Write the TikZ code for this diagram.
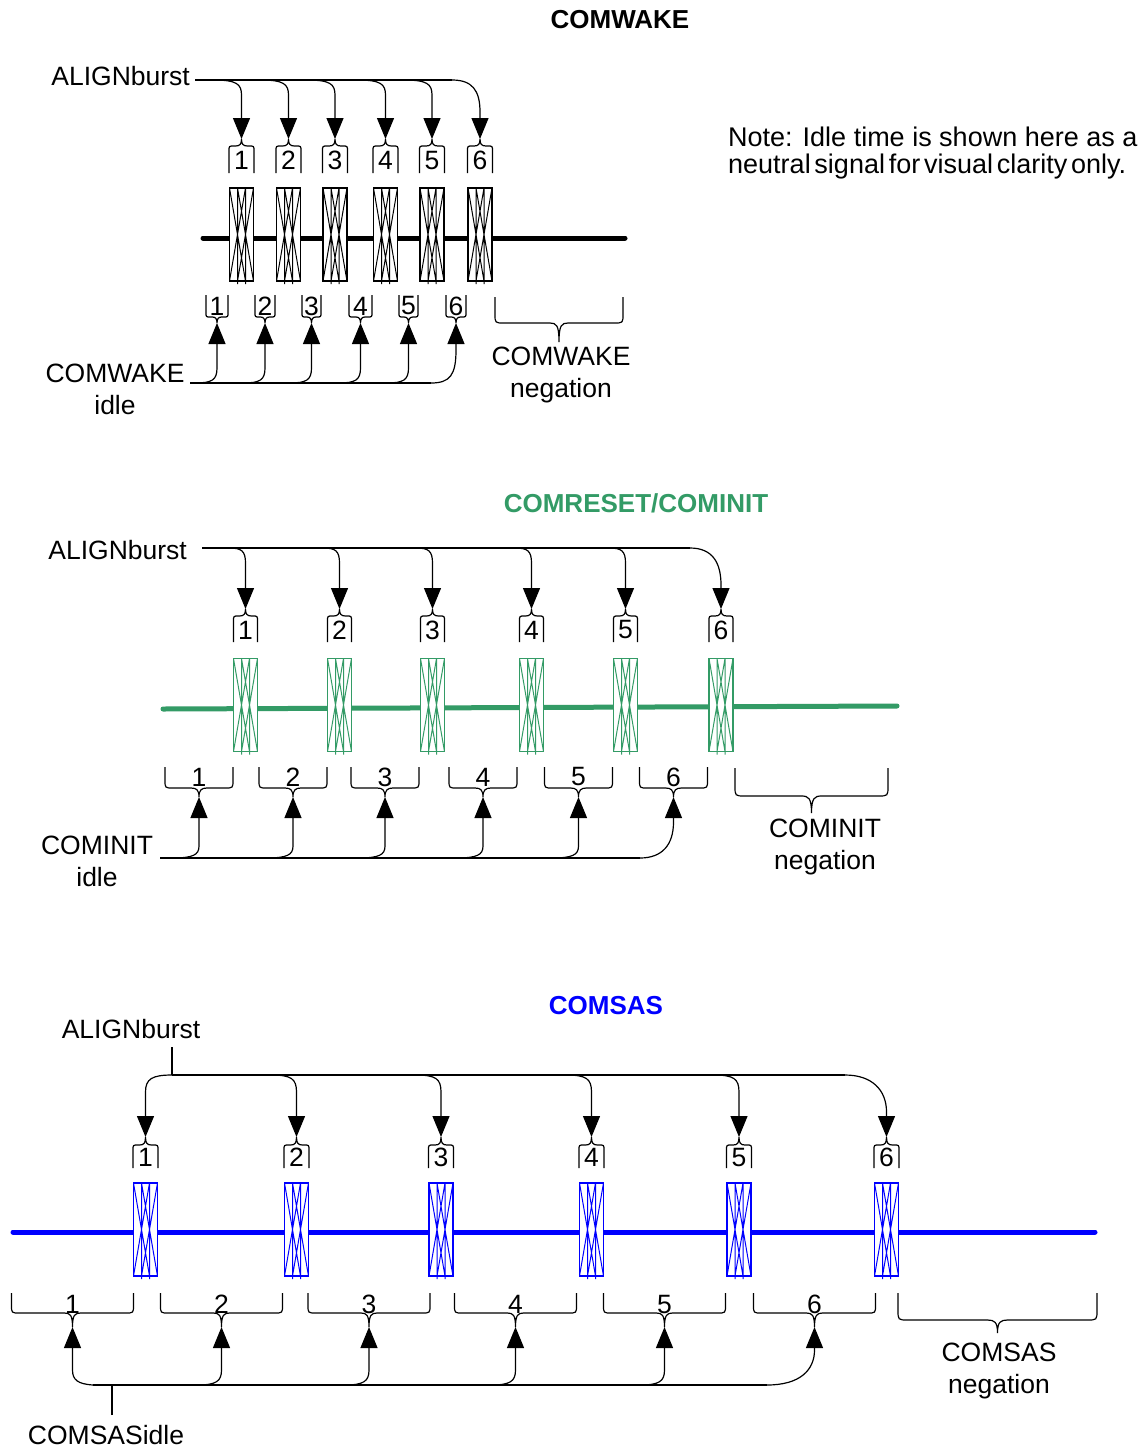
\documentclass[tikz,border=0pt]{standalone}
\usepackage{fontspec}
\setmainfont{Liberation Sans}
\usetikzlibrary{arrows.meta}
\definecolor{cgreen}{RGB}{51,155,102}
\definecolor{cblue}{RGB}{0,0,255}
\tikzset{
  thinl/.style={line width=1.2pt, black},
  arr/.style={line width=1.2pt, black, -{Triangle[length=21pt,width=17pt]}},
  burstbox/.style={rectangle, draw, fill=white, line width=1.4pt, inner sep=0pt, minimum width=24pt, minimum height=93pt},
  hatch/.style={line width=1pt},
  sig/.style={line width=5pt, line cap=round},
  lbl/.style={inner sep=0pt, font=\fontsize{26.5}{32}\selectfont},
  num/.style={inner sep=0pt, font=\fontsize{26.5}{32}\selectfont},
  ttl/.style={inner sep=0pt, font=\fontsize{26}{32}\selectfont\bfseries},
}
% cx, ymid, colour, name
\newcommand\BurstBox[4]{%
  \node[burstbox, draw=#3] (#4) at (#1,#2) {};
  \draw[hatch, #3] ({#1-4},{#2-46.5}) -- ({#1-4},{#2+49.5}) ({#1+4},{#2-46.5}) -- ({#1+4},{#2+49.5})
    ({#1-12},{#2-46.5}) -- ({#1+4},{#2+46.5}) ({#1-4},{#2-46.5}) -- ({#1+12},{#2+46.5})
    ({#1+12},{#2-46.5}) -- ({#1-4},{#2+46.5}) ({#1+4},{#2-46.5}) -- ({#1-12},{#2+46.5});
}
% cx, halfwidth, ytop, ybot, ycusp, name, text
\newcommand\HatLbl[7]{%
  \draw[thinl] ({#1-#2},#4) -- ({#1-#2},{#3+5}) .. controls ({#1-#2},#3) .. ({#1-#2+5},#3)
    -- ({#1-6},#3) .. controls ({#1-1.5},#3) and (#1,{#3-2}) .. (#1,#5)
    .. controls (#1,{#3-2}) and ({#1+1.5},#3) .. ({#1+6},#3)
    -- ({#1+#2-5},#3) .. controls ({#1+#2},#3) .. ({#1+#2},{#3+5}) -- ({#1+#2},#4);
  \coordinate (#6) at (#1,#5);
  \node[num] (#6-n) at (#1,{(#3+#4)/2+1}) {#7};
}
% cx, halfwidth, ytop, ybot, ycusp, name, r
\newcommand\BraceShape[7]{%
  \draw[thinl] ({#1-#2},#3) -- ({#1-#2},{#4-#7}) .. controls ({#1-#2},#4) .. ({#1-#2+#7},#4)
    -- ({#1-#7},#4) .. controls ({#1-0.3*#7},#4) and (#1,{#4+2}) .. (#1,#5)
    .. controls (#1,{#4+2}) and ({#1+0.3*#7},#4) .. ({#1+#7},#4)
    -- ({#1+#2-#7},#4) .. controls ({#1+#2},#4) .. ({#1+#2},{#4-#7}) -- ({#1+#2},#3);
  \coordinate (#6) at (#1,#5);
}
\begin{document}
\begin{tikzpicture}[x=1pt,y=-1pt]
\fill[white] (0,0) rectangle (1145,1449);
\useasboundingbox (0,0) rectangle (1145,1449);

%================ COMWAKE ================
\node[ttl] (t1) at (620,20) {COMWAKE};
\node[lbl, anchor=east] (al1) at (190,76) {ALIGNburst};
\node[anchor=west, align=left, inner sep=0pt, font=\fontsize{27}{27}\selectfont] (note) at (728,153)
  {Note: Idle time is shown here as a\\{\spaceskip=0.14em\relax neutral signal for visual clarity only.}};
\draw[sig, black] (203,238) -- (625,238);
\foreach \X [count=\i] in {241.5,288.5,335,385.5,432,480} {
  \BurstBox{\X}{234.5}{black}{w\i}
  \HatLbl{\X}{12.5}{146}{173}{139}{wh\i}{\i}
  \coordinate (wb\i) at ({\X-28},80);
}
\coordinate (wb0) at (195,80);
\draw[thinl] (wb0) -- (wb6);
\foreach \X [count=\i] in {241.5,288.5,335,385.5,432} {
  \draw[arr] (wb\i) .. controls ({\X-5},80) and (\X,84) .. (\X,95) -- (wh\i);
}
\draw[arr] (wb6) .. controls (472,80) and (480,90) .. (480,112) -- (wh6);

\foreach \X/\H [count=\i] in {217/11,265/10,311.5/9.5,360.5/11.5,408.5/9.5,456/10} {
  \BraceShape{\X}{\H}{295}{317}{323}{wr\i}{4.5}
  \node[num] (wr\i-n) at (\X,306) {\i};
  \coordinate (wc\i) at ({\X-22},383);
}
\coordinate (wc0) at (190,383);
\coordinate (wc7) at (431,383);
\draw[thinl] (wc0) -- (wc7);
\foreach \X [count=\i] in {217,265,311.5,360.5,408.5} {
  \draw[arr] (wc\i) .. controls ({\X-5},383) and (\X,380) .. (\X,368) -- (wr\i);
}
\draw[arr] (wc7) .. controls (450,383) and (456,375) .. (456,350) -- (wr6);
\node[lbl, align=center] (idle1) at (115,389) {COMWAKE\\idle};
\BraceShape{559}{64}{297}{323}{342}{neg1b}{9}
\node[lbl, align=center] (neg1) at (561,375) {COMWAKE\\negation};

%================ COMRESET/COMINIT ================
\node[ttl, text=cgreen] (t2) at (636,503) {COMRESET/COMINIT};
\node[lbl, anchor=east] (al2) at (187,550) {ALIGNburst};
\draw[sig, cgreen] (163,709) -- (897,706);
\foreach \X [count=\i] in {245.5,339.5,432.5,531.5,625.5,721} {
  \BurstBox{\X}{705}{cgreen}{g\i}
  \HatLbl{\X}{12}{616}{642}{609}{gh\i}{\i}
  \coordinate (gb\i) at ({\X-16},548);
}
\coordinate (gb0) at (202,548);
\coordinate (gb7) at (690,548);
\draw[thinl] (gb0) -- (gb7);
\foreach \X [count=\i] in {245.5,339.5,432.5,531.5,625.5} {
  \draw[arr] (gb\i) .. controls ({\X-4},548) and (\X,551) .. (\X,563) -- (gh\i);
}
\draw[arr] (gb7) .. controls (712,548) and (721,562) .. (721,585) -- (gh6);

\foreach \X [count=\i] in {199,293,385,483,578.5,673.5} {
  \BraceShape{\X}{34}{767}{788}{797}{gr\i}{8}
  \node[num] (gr\i-n) at (\X,777) {\i};
  \coordinate (gc\i) at ({\X-27},858);
}
\coordinate (gc0) at (160,858);
\coordinate (gc7) at (640,858);
\draw[thinl] (gc0) -- (gc7);
\foreach \X [count=\i] in {199,293,385,483,578.5} {
  \draw[arr] (gc\i) .. controls ({\X-6},858) and (\X,855) .. (\X,846) -- (gr\i);
}
\draw[arr] (gc7) .. controls (662,858) and (673.5,845) .. (673.5,822) -- (gr6);
\node[lbl, align=center] (idle2) at (97,861) {COMINIT\\idle};
\BraceShape{811.5}{76.5}{768}{796}{813}{neg2b}{10}
\node[lbl, align=center] (neg2) at (825,847) {COMINIT\\negation};

%================ COMSAS ================
\node[ttl, text=cblue] (t3) at (606,1006) {COMSAS};
\node[lbl] (al3) at (131,1029) {ALIGNburst};
\draw[sig, cblue] (13,1232) -- (1095,1232);
\foreach \X [count=\i] in {145.5,296.5,441,591.5,739,886.5} {
  \BurstBox{\X}{1229.5}{cblue}{b\i}
  \HatLbl{\X}{12.5}{1145}{1168}{1137}{bh\i}{\i}
  \coordinate (bb\i) at ({\X-25},1075);
}
\coordinate (ba0) at (172,1047);
\coordinate (ba1) at (172,1075);
\coordinate (bb7) at (845,1075);
\draw[thinl] (ba0) -- (ba1);
\draw[thinl] (ba1) -- (bb7);
\draw[arr] (ba1) .. controls (152,1075) and (145.5,1079) .. (145.5,1092) -- (bh1);
\foreach \X [count=\i from 2] in {296.5,441,591.5,739} {
  \draw[arr] (bb\i) .. controls ({\X-5},1075) and (\X,1079) .. (\X,1092) -- (bh\i);
}
\draw[arr] (bb7) .. controls (872,1075) and (886.5,1090) .. (886.5,1112) -- (bh6);

\foreach \X [count=\i] in {72.5,221.5,369,515.5,664.5,814.5} {
  \BraceShape{\X}{61}{1293}{1313}{1327}{br\i}{8}
  \node[num] (br\i-n) at (\X,1304) {\i};
  \coordinate (bc\i) at ({\X-24},1385);
}
\coordinate (bc0) at (93,1385);
\coordinate (bc7) at (767,1385);
\coordinate (bi0) at (112,1385);
\coordinate (bi1) at (112,1415);
\draw[thinl] (bc0) -- (bc7);
\draw[thinl] (bi1) -- (bi0);
\draw[arr] (bc0) .. controls (78,1384) and (72.5,1380) .. (72.5,1370) -- (br1);
\foreach \X [count=\i from 2] in {221.5,369,515.5,664.5} {
  \draw[arr] (bc\i) .. controls ({\X-5},1385) and (\X,1381) .. (\X,1370) -- (br\i);
}
\draw[arr] (bc7) .. controls (800,1385) and (814.5,1370) .. (814.5,1350) -- (br6);
\node[lbl] (idle3) at (106,1435) {COMSASidle};
\BraceShape{997.5}{99.5}{1293}{1320}{1333}{neg3b}{10}
\node[lbl, align=center] (neg3) at (999,1371) {COMSAS\\negation};
\end{tikzpicture}
\end{document}
